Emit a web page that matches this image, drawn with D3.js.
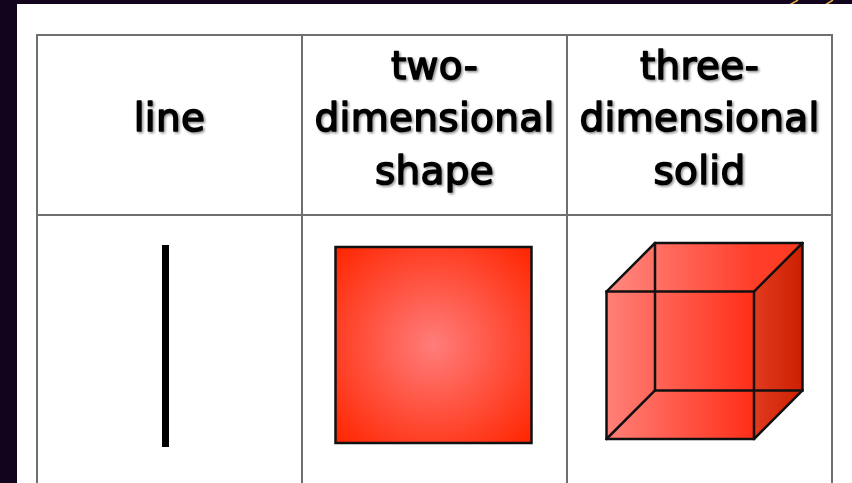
<html>
<head>
<meta charset="utf-8">
<script src="https://d3js.org/d3.v7.min.js"></script>
<style>
  html, body { margin: 0; padding: 0; background: #13041d; overflow: hidden; }
</style>
</head>
<body>
<svg id="table"></svg>

<script>
// column keys, header text (one entry per printed line) and how many dimensions each has
var columns = ["line", "shape", "solid"];
var headerLines = [["line"], ["two-", "dimensional", "shape"], ["three-", "dimensional", "solid"]];
var dimensions = [1, 2, 3];

var W = 852, H = 483;
var tableLeft = 37, tableRight = 832, tableTop = 35, headerBottom = 215, tableBottom = 520;

var svg = d3.select("#table").attr("width", W).attr("height", H);

var x = d3.scaleBand().domain(columns).range([tableLeft, tableRight]);
var bw = x.bandwidth();

// vertical scale for the pictures in the body row (0 = bottom, 1 = top)
var shapeY = d3.scaleLinear().domain([0, 1]).range([443, 245]);
var lineStep = 52.5;

var defs = svg.append("defs");

var sq = defs.append("radialGradient").attr("id", "sqGrad").attr("cx", "50%").attr("cy", "50%").attr("r", "70%");
sq.append("stop").attr("offset", "0%").attr("stop-color", "#ff7d7b");
sq.append("stop").attr("offset", "100%").attr("stop-color", "#ff2500");

var cubeG = defs.append("linearGradient").attr("id", "cubeGrad").attr("x1", "0%").attr("x2", "100%");
cubeG.append("stop").attr("offset", "0%").attr("stop-color", "#ff8078");
cubeG.append("stop").attr("offset", "75%").attr("stop-color", "#ff2e18");
cubeG.append("stop").attr("offset", "100%").attr("stop-color", "#ff2a10");

var sideG = defs.append("linearGradient").attr("id", "sideGrad").attr("x1", "0%").attr("x2", "100%");
sideG.append("stop").attr("offset", "0%").attr("stop-color", "#e23a20");
sideG.append("stop").attr("offset", "100%").attr("stop-color", "#cc2000");

var shadow = defs.append("filter").attr("id", "txtShadow").attr("x", "-10%").attr("y", "-10%").attr("width", "130%").attr("height", "140%");
shadow.append("feDropShadow").attr("dx", 1.5).attr("dy", 1.5).attr("stdDeviation", 1.2)
  .attr("flood-color", "#000").attr("flood-opacity", 0.45);

// gold doodle peeking above the page
svg.append("path")
  .attr("d", "M798,0 L786,7 M833,0 L822,7")
  .attr("stroke", "#e2b04a").attr("stroke-width", 1.5).attr("fill", "none");

// white page
svg.append("rect").attr("x", 17).attr("y", 4).attr("width", W - 17).attr("height", H)
  .attr("fill", "#ffffff");

// grid
var grid = svg.append("g").attr("stroke", "#6f6f6f").attr("stroke-width", 2).attr("fill", "none");
grid.append("rect").attr("x", tableLeft).attr("y", tableTop)
  .attr("width", tableRight - tableLeft).attr("height", tableBottom - tableTop);
grid.append("line").attr("x1", tableLeft).attr("x2", tableRight).attr("y1", headerBottom).attr("y2", headerBottom);
grid.selectAll(".div").data(columns.slice(1)).enter().append("line")
  .attr("x1", function(d) { return x(d); }).attr("x2", function(d) { return x(d); })
  .attr("y1", tableTop).attr("y2", tableBottom);

// headers
var headMid = (tableTop + headerBottom) / 2 + 6;
var heads = svg.selectAll(".head").data(columns).enter().append("text")
  .attr("class", "head")
  .attr("text-anchor", "middle")
  .attr("font-family", "'Comic Sans MS', 'DejaVu Sans', sans-serif")
  .attr("font-size", 39)
  .attr("letter-spacing", 0.3)
  .attr("fill", "#000").attr("stroke", "#000").attr("stroke-width", 1.5).attr("stroke-linejoin", "round")
  .attr("filter", "url(#txtShadow)");

heads.selectAll("tspan").data(function(d, i) { return headerLines[i].map(function(t, j) { return {t: t, j: j, n: headerLines[i].length, c: d}; }); })
  .enter().append("tspan")
  .attr("x", function(d) { return x(d.c) + bw / 2; })
  .attr("y", function(d) { return headMid + (d.j - (d.n - 1) / 2) * lineStep; })
  .text(function(d) { return d.t; });

// pictures
var size = shapeY(0) - shapeY(1);
dimensions.forEach(function(dim, i) {
  var cx = x(columns[i]) + bw / 2;
  if (dim === 1) {
    svg.append("rect")
      .attr("x", cx - 7.5).attr("y", shapeY(1)).attr("width", 7).attr("height", size + 4)
      .attr("fill", "#000");
  } else if (dim === 2) {
    svg.append("rect")
      .attr("x", cx - size / 2).attr("y", shapeY(1) + 2).attr("width", size - 2).attr("height", size - 2)
      .attr("fill", "url(#sqGrad)").attr("stroke", "#111").attr("stroke-width", 2.5);
  } else {
    var d = size * 0.245, f = size - d - 2;        // depth offset and face size
    var x0 = cx - size / 2 + 6, y0 = shapeY(0) - 4; // front bottom-left
    var FBL = [x0, y0], FTL = [x0, y0 - f], FTR = [x0 + f, y0 - f], FBR = [x0 + f, y0];
    var BBL = [x0 + d, y0 - d], BTL = [x0 + d, y0 - d - f], BTR = [x0 + d + f, y0 - d - f], BBR = [x0 + d + f, y0 - d];
    var line = d3.line();
    svg.append("path").attr("d", line([FBL, FTL, BTL, BTR, BBR, FBR]) + "Z").attr("fill", "url(#cubeGrad)");
    svg.append("path").attr("d", line([FTL, BTL, BTR, FTR]) + "Z").attr("fill", "#ffffff").attr("opacity", 0.08);
    svg.append("path").attr("d", line([FTR, BTR, BBR, FBR]) + "Z").attr("fill", "url(#sideGrad)");
    var edges = [[FBL, FTL], [FTL, FTR], [FTR, FBR], [FBR, FBL],
                 [BBL, BTL], [BTL, BTR], [BTR, BBR], [BBR, BBL],
                 [FBL, BBL], [FTL, BTL], [FTR, BTR], [FBR, BBR]];
    svg.append("g").selectAll("path").data(edges).enter().append("path")
      .attr("d", function(e) { return line(e); })
      .attr("stroke", "#111").attr("stroke-width", 2.5).attr("fill", "none").attr("stroke-linecap", "round");
  }
});
</script>
</body>
</html>
